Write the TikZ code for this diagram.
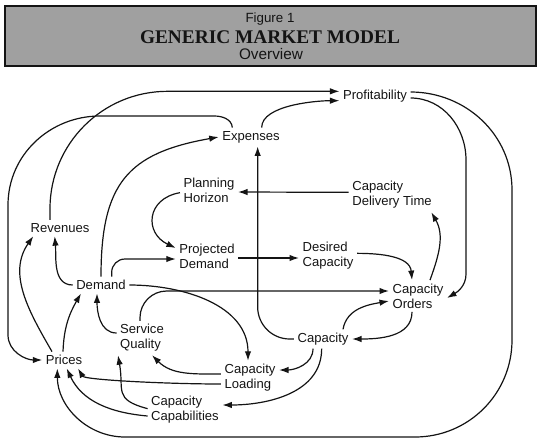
\documentclass[tikz,border=0pt]{standalone}
\usepackage{fontspec}
\setmainfont{Liberation Sans}
\newfontfamily\bannerserif{Liberation Serif}
\usetikzlibrary{arrows.meta}
\definecolor{bannergray}{HTML}{A0A0A0}
\definecolor{inkblack}{HTML}{141414}
\tikzset{
  >=Latex,
  var/.style={font=\fontsize{9.8}{11.3}\selectfont, align=left, inner sep=2.5pt, text=inkblack},
  banner/.style={draw=inkblack, line width=2pt, fill=bannergray},
  fignum/.style={font=\fontsize{10}{12}\selectfont, text=inkblack},
  bannertitle/.style={font=\bannerserif\bfseries\fontsize{14.5}{16}\selectfont, text=inkblack},
  bannersub/.style={font=\fontsize{11.5}{13}\selectfont, text=inkblack},
  arrow/.style={-{Latex[length=2.5mm,width=1.7mm]}, line width=0.9pt, draw=inkblack}
}

\begin{document}
\begin{tikzpicture}[x=0.75pt,y=0.75pt]
\useasboundingbox (0,0) rectangle (541,-446);
% banner
\draw[banner] (5,-6) rectangle (536,-66);
\node[fignum] (figno) at (270,-19) {Figure 1};
\node[bannertitle] (figtitle) at (270,-37) {GENERIC MARKET MODEL};
\node[bannersub] (figsub) at (271,-54) {Overview};
% variables
\node[var] (prof) at (375,-96) {Profitability};
\node[var] (exp) at (251,-137) {Expenses};
\node[var] (plan) at (209,-190) {Planning\\Horizon};
\node[var] (cdt) at (392,-195) {Capacity\\Delivery Time};
\node[var] (rev) at (60,-228) {Revenues};
\node[var] (pdem) at (207,-256) {Projected\\Demand};
\node[var] (dcap) at (328,-256) {Desired\\Capacity};
\node[var] (dem) at (101,-285) {Demand};
\node[var] (cord) at (418,-296) {Capacity\\Orders};
\node[var] (sq) at (142,-338) {Service\\Quality};
\node[var] (cap) at (323,-339) {Capacity};
\node[var] (pri) at (64,-360) {Prices};
\node[var] (cld) at (250,-378) {Capacity\\Loading};
\node[var] (ccb) at (185,-410) {Capacity\\Capabilities};
% bends of the outer loops
\coordinate (nwbend) at (214,-116);
\coordinate (nwarc) at (100,-116);
\coordinate (wtop) at (8,-205);
\coordinate (wbot) at (8,-335);
\coordinate (itop) at (466,-160);
\coordinate (ibot) at (466,-274);
\coordinate (etop) at (512,-190);
\coordinate (ebot) at (512,-340);
\coordinate (sbend) at (415,-437);
\coordinate (swbend) at (125,-437);
% links
\draw[arrow, rounded corners=88pt] ([xshift=-7.5pt]rev.north) |- ([yshift=3.5pt]prof.west);
\draw[arrow] ([xshift=8pt]exp.north) to[out=90,in=180,looseness=0.7] ([yshift=-3.5pt]prof.west);
\draw[arrow] ([xshift=-14pt]exp.north) to[out=95,in=0] (nwbend) -- (nwarc) to[out=180,in=90] (wtop) -- (wbot) to[out=-90,in=180] (pri.west);
\draw[arrow] ([yshift=3pt]prof.east) to[out=0,in=90] (etop) -- (ebot) to[out=-90,in=0] (sbend) -- (swbend) to[out=180,in=-90] ([xshift=-5pt]pri.south);
\draw[arrow] ([yshift=-1.5pt]prof.east) to[out=0,in=90] (itop) -- (ibot) to[out=-90,in=30] ([yshift=-1.5pt]cord.east);
\draw[arrow, rounded corners=20pt] ([xshift=-1.5pt]sq.north) |- ([yshift=3.75pt]cord.west);
\draw[arrow] (dem.east) to[out=0,in=90] ([xshift=-1.5pt]cld.north);
\draw[arrow] ([xshift=15pt]cap.north) to[out=80,in=190] ([yshift=-3.75pt]cord.west);
\draw[arrow] ([xshift=-4.5pt]cord.south) to[out=-90,in=0] (cap.east);
\draw[arrow, rounded corners=24pt] (cap.west) -| ([xshift=5pt]exp.south);
\draw[arrow] ([xshift=-7.5pt]cap.south) to[out=-90,in=0] ([yshift=6pt]cld.east);
\draw[arrow] ([xshift=-1pt]cap.south) to[out=-90,in=0] ([yshift=3.75pt]ccb.east);
\draw[arrow] ([yshift=3pt]cld.west) to[out=180,in=-45] ([xshift=7.5pt]sq.south);
\draw[arrow] ([yshift=-4.5pt]cld.west) to[out=180,in=-60,out distance=40pt,in distance=10pt] ([xshift=10.5pt]pri.south);
\draw[arrow] ([yshift=-4.5pt]ccb.west) to[out=175,in=-65] ([xshift=2pt]pri.south);
\draw[arrow] ([yshift=1pt]ccb.west) to[out=165,in=-80,looseness=1.5] ([xshift=-18pt]sq.south);
\draw[arrow] ([xshift=-0.75pt]pri.north) to[out=88,in=-120] ([xshift=-15pt]dem.south);
\draw[arrow] ([xshift=-9pt]pri.north) to[out=120,in=-125] ([xshift=-20pt]rev.south);
\draw[arrow] (dem.west) to[out=180,in=-85] ([xshift=-4pt]rev.south);
\draw[arrow] ([yshift=3.75pt]sq.west) to[out=180,in=-90] ([xshift=-3pt]dem.south);
\draw[arrow, rounded corners=10pt] ([xshift=8pt]dem.north) |- ([yshift=-2.25pt]pdem.west);
\draw[arrow] (dem.north) to[out=90,in=190,looseness=1.3] (exp.west);
\draw[arrow] ([yshift=-2pt]plan.west) to[out=190,in=155,looseness=1.6] ([yshift=6pt]pdem.west);
\draw[arrow] ([yshift=2pt]cdt.west) -- ([yshift=-1.5pt]plan.east);
\draw[arrow] ([yshift=-1.5pt]pdem.east) -- ([yshift=-1.5pt]dcap.west);
\draw[arrow] ([yshift=2pt]dcap.east) to[out=0,in=95] ([xshift=-4.5pt]cord.north);
\draw[arrow] ([xshift=9pt]cord.north) to[out=70,in=-60] ([xshift=-3pt]cdt.south east);
\end{tikzpicture}
\end{document}
